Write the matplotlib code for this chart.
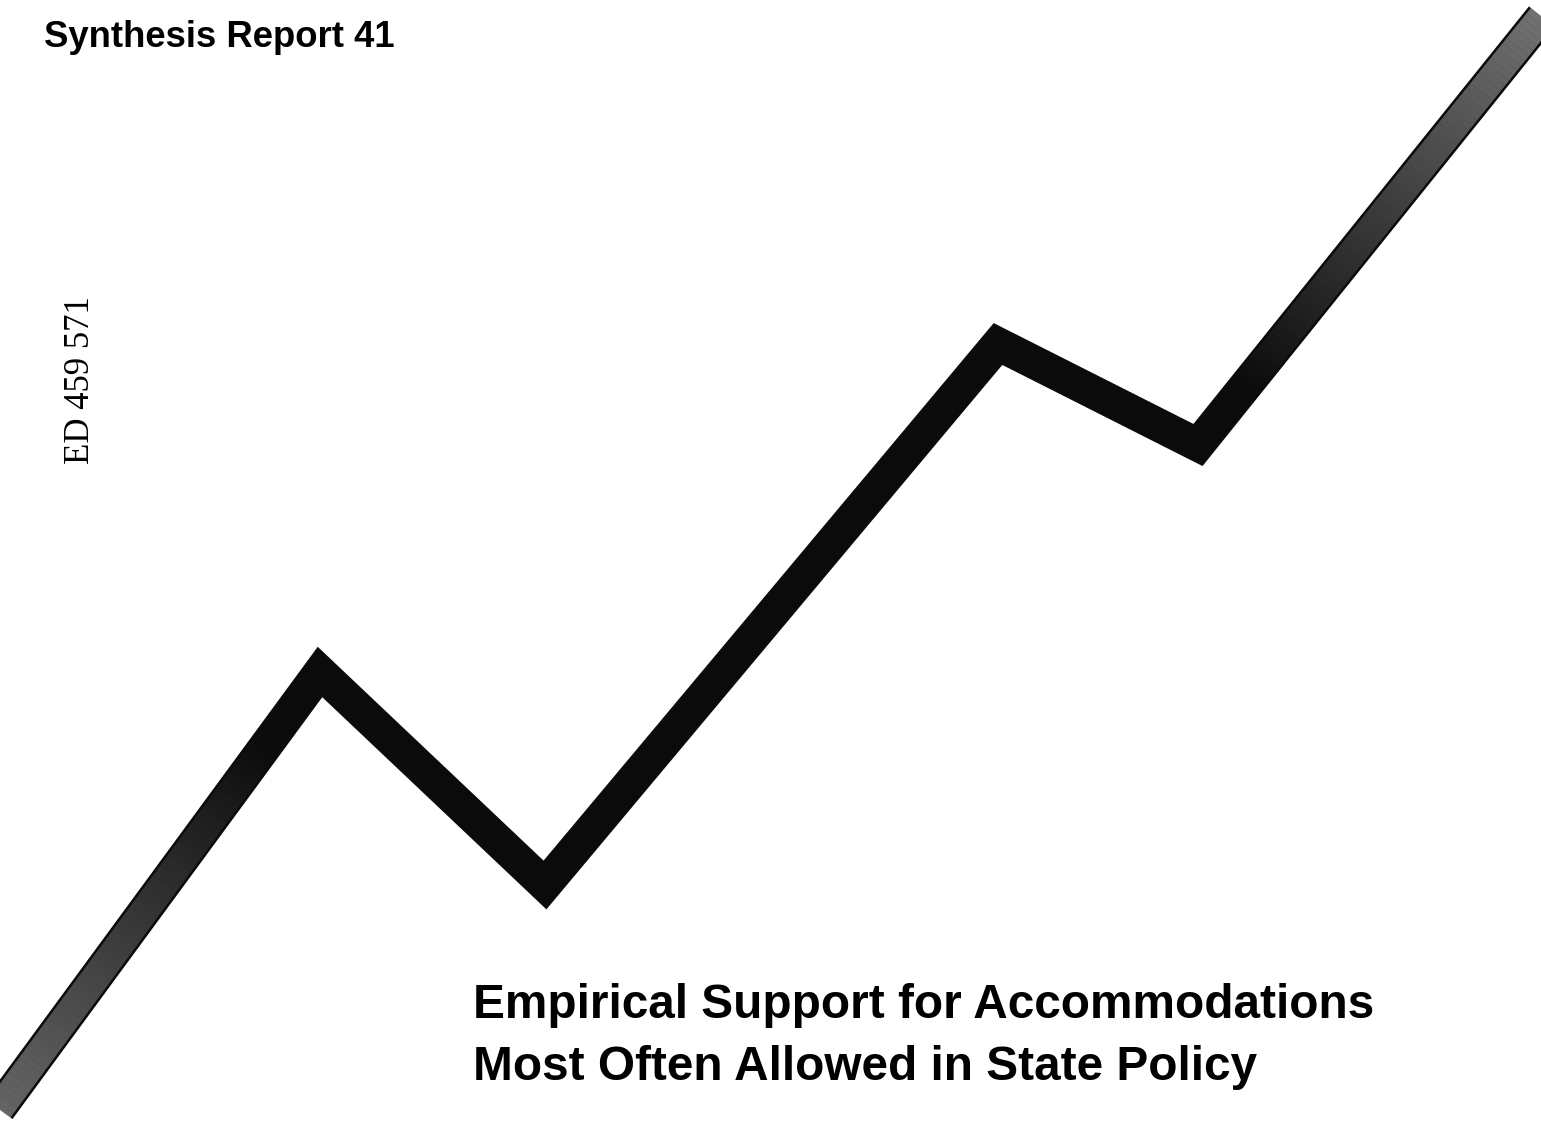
import numpy as np
import matplotlib
matplotlib.use("Agg")
import matplotlib.pyplot as plt
from matplotlib.collections import LineCollection

# ---- data (page pixel coordinates of the zigzag trend line) ----
line_x = [-20, 320, 545, 998, 1198, 1562]
line_y = [1135, 672, 885, 344, 445, -8]

header_text = "Synthesis Report 41"
ed_number = "ED 459 571"
title_lines = ["Empirical Support for Accommodations",
               "Most Often Allowed in State Policy"]

W, H = 1541, 1128
fig = plt.figure(figsize=(W / 100, H / 100), dpi=100)
ax = fig.add_axes([0, 0, 1, 1])
ax.set_xlim(0, W)
ax.set_ylim(H, 0)
ax.axis("off")

px = 72 / 100  # points per pixel
band_px = 33.5
band_w = band_px * px

# main black band
ax.plot(line_x, line_y, color="#0b0b0b", lw=band_w,
        solid_joinstyle="miter", solid_capstyle="butt", zorder=2)

# lighter ends (white overlay with fading alpha, inset from the band edges)
def fade_overlay(i0, i1, f0, f1, a0, a1, n=80):
    x0, y0 = line_x[i0], line_y[i0]
    x1, y1 = line_x[i1], line_y[i1]
    t = np.linspace(f0, f1, n + 1)
    xs = x0 + (x1 - x0) * t
    ys = y0 + (y1 - y0) * t
    segs = [[(xs[i], ys[i]), (xs[i + 1], ys[i + 1])] for i in range(n)]
    s = np.linspace(0, 1, n + 1)
    alphas = a0 + (a1 - a0) * (s[:-1] + s[1:]) / 2
    cols = [(1, 1, 1, a) for a in alphas]
    lc = LineCollection(segs, colors=cols, linewidths=(band_px - 5) * px,
                        capstyle="butt", zorder=3)
    ax.add_collection(lc)

# bottom-left end: from start towards first peak
fade_overlay(0, 1, 0.0, 0.85, 0.40, 0.0)
# top-right end: from after last trough towards the end
fade_overlay(4, 5, 0.12, 1.0, 0.0, 0.45)

# ---- texts ----
ax.text(44, 47, header_text, fontsize=26.3, fontweight="bold",
        family=["Liberation Sans", "DejaVu Sans"], ha="left", va="baseline",
        color="black", zorder=5)

ax.text(81, 380, ed_number, fontsize=25, rotation=90,
        family=["Liberation Serif", "DejaVu Serif"], ha="center", va="center",
        color="black", zorder=5)

for i, line in enumerate(title_lines):
    ax.text(473, 1018 + 62 * i, line, fontsize=34.4, fontweight="bold",
            family=["Liberation Sans", "DejaVu Sans"], ha="left", va="baseline",
            color="black", zorder=5)

fig.savefig("out.png", dpi=100, facecolor="white")
